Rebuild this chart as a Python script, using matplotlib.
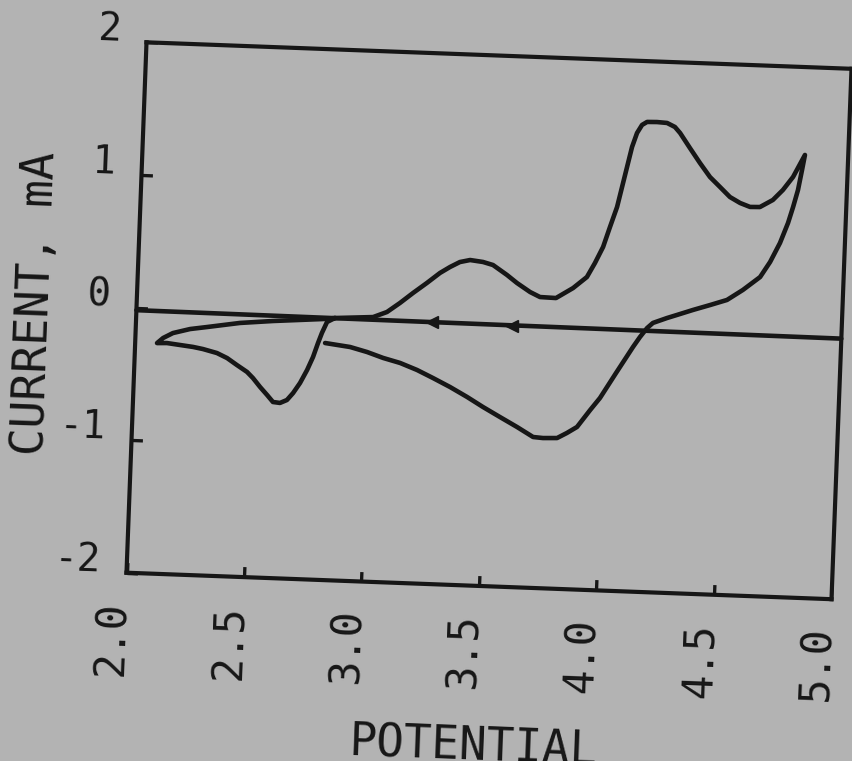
import matplotlib
matplotlib.use("Agg")
import numpy as np
import matplotlib.pyplot as plt
from matplotlib.transforms import Affine2D
import mpl_toolkits.axisartist.floating_axes as floating_axes
from mpl_toolkits.axisartist.grid_finder import FixedLocator, DictFormatter

# ---------------- data (potential in V, current in mA) ----------------
x_ticks = [2.0, 2.5, 3.0, 3.5, 4.0, 4.5, 5.0]
x_ticklabels = ["2.0", "2.5", "3.0", "3.5", "4.0", "4.5", "5.0"]
y_ticks = [-2.0, -1.0, 0.0, 1.0, 2.0]
y_ticklabels = ["-2", "-1", "0", "1", "2"]

# straight zero/start line drawn by the recorder
base_x = [2.0, 5.0]
base_y = [-0.02, -0.035]

# scan-direction arrow heads on the start line
arrow_x = [3.26, 3.60]
arrow_y = [-0.028, -0.03]

# low-potential loop (2.1 - 2.85 V)
loop_x = [2.845, 2.794, 2.582, 2.442, 2.303, 2.231, 2.159, 2.118, 2.093, 2.135,
          2.191, 2.247, 2.289, 2.349, 2.393, 2.436, 2.480, 2.506, 2.538, 2.569,
          2.595, 2.625, 2.654, 2.679, 2.707, 2.735, 2.758, 2.777, 2.792, 2.812,
          2.845]
loop_y = [-0.023, -0.034, -0.063, -0.087, -0.127, -0.147, -0.182, -0.222, -0.262, -0.259,
          -0.270, -0.281, -0.294, -0.320, -0.355, -0.405, -0.454, -0.498, -0.564, -0.622,
          -0.673, -0.678, -0.654, -0.600, -0.522, -0.422, -0.323, -0.216, -0.139, -0.055,
          -0.023]

# main cycle: anodic sweep to 4.8 V and cathodic return
main_x = [2.845, 3.007, 3.065, 3.119, 3.173, 3.230, 3.284, 3.326, 3.367, 3.410,
          3.465, 3.508, 3.569, 3.613, 3.670, 3.713, 3.781, 3.852, 3.909, 3.941,
          3.973, 3.999, 4.026, 4.044, 4.062, 4.080, 4.099, 4.119, 4.140, 4.182,
          4.225, 4.259, 4.282, 4.326, 4.371, 4.416, 4.460, 4.504, 4.548, 4.591,
          4.633, 4.687, 4.728, 4.769, 4.816,
          4.806, 4.792, 4.774, 4.755, 4.724, 4.685, 4.645, 4.574, 4.508, 4.437,
          4.365, 4.298, 4.256, 4.197, 4.173, 4.144, 4.116, 4.048, 3.984, 3.944,
          3.891, 3.849, 3.808, 3.748, 3.706, 3.636, 3.562, 3.488, 3.419, 3.345,
          3.271, 3.202, 3.129, 3.056, 2.987, 2.914, 2.807]
main_y = [-0.023, -0.005, 0.037, 0.109, 0.188, 0.267, 0.346, 0.394, 0.434, 0.452,
          0.441, 0.421, 0.350, 0.292, 0.228, 0.193, 0.190, 0.270, 0.357, 0.465,
          0.588, 0.740, 0.893, 1.045, 1.197, 1.349, 1.456, 1.518, 1.542, 1.544,
          1.540, 1.512, 1.468, 1.358, 1.248, 1.145, 1.073, 1.000, 0.958, 0.931,
          0.933, 0.990, 1.068, 1.169, 1.338,
          1.224, 1.072, 0.943, 0.821, 0.668, 0.522, 0.406, 0.304, 0.224, 0.181,
          0.139, 0.097, 0.071, 0.030, -0.010, -0.080, -0.157, -0.358, -0.550, -0.644,
          -0.775, -0.823, -0.864, -0.868, -0.863, -0.792, -0.722, -0.651, -0.580, -0.510,
          -0.447, -0.391, -0.343, -0.310, -0.270, -0.237, -0.214]

x_label = "POTENTIAL"
y_label = "CURRENT, mA"

# ---------------- styling ----------------
BG = "#b3b3b3"
INK = "#161616"
W, H = 852, 761
plt.rcParams["font.family"] = ["DejaVu Sans Mono", "DejaVu Sans"]

fig = plt.figure(figsize=(W / 100, H / 100), dpi=100, facecolor=BG)

# the scanned sheet is slightly tilted: map (V, mA) to figure pixels
tilt = Affine2D(np.array([[235.0, 5.0, -333.5],
                          [-8.83, 132.6, 471.15],
                          [0.0, 0.0, 1.0]]))
corners = tilt.transform([[2, -2], [5, -2], [5, 2], [2, 2]])
x0, y0 = corners.min(axis=0)
x1, y1 = corners.max(axis=0)
cx, cy = (x0 + x1) / 2, (y0 + y1) / 2
bw, bh = (x1 - x0) * 1.02, (y1 - y0) * 1.02
rect = [(cx - bw / 2) / W, (cy - bh / 2) / H, bw / W, bh / H]

grid_helper = floating_axes.GridHelperCurveLinear(
    tilt, extremes=(2.0, 5.0, -2.0, 2.0),
    grid_locator1=FixedLocator(x_ticks),
    grid_locator2=FixedLocator(y_ticks),
    tick_formatter1=DictFormatter(dict(zip(x_ticks, x_ticklabels))),
    tick_formatter2=DictFormatter(dict(zip(y_ticks, y_ticklabels))))

ax = fig.add_axes(rect, axes_class=floating_axes.FloatingAxes,
                  grid_helper=grid_helper)
ax.patch.set_facecolor(BG)
aux = ax.get_aux_axes(tilt)

for side in ["bottom", "left", "top", "right"]:
    a = ax.axis[side]
    a.line.set_linewidth(3.0)
    a.line.set_color(INK)
for side in ["top", "right"]:
    ax.axis[side].toggle(ticks=False, ticklabels=False, label=False)
for side in ["bottom", "left"]:
    t = ax.axis[side].major_ticks
    t.set_tick_out(False)
    t.set_ticksize(7.5)
    t.set_markeredgewidth(2.4)
    t.set_markeredgecolor(INK)
    t.set_color(INK)
    ax.axis[side].major_ticklabels.set_color(INK)

btl = ax.axis["bottom"].major_ticklabels
btl.set_fontsize(30)
btl.set_rotation(90)
btl.set_ha("right")
btl.set_va("baseline")
btl.set_pad(-2.6)

ltl = ax.axis["left"].major_ticklabels
ltl.set_fontsize(28)
ltl.set_ha("right")
ltl.set_va("baseline")
ltl.set_pad(19)

bl = ax.axis["bottom"].label
bl.set_text(x_label)
bl.set_fontsize(33)
bl.set_color(INK)
bl.set_pad(80)

ll = ax.axis["left"].label
ll.set_text(y_label)
ll.set_fontsize(33)
ll.set_color(INK)
ll.set_pad(3.5)

# ---------------- curves ----------------
kw = dict(color=INK, lw=3.3, solid_capstyle="round", solid_joinstyle="round")
aux.plot(base_x, base_y, **kw)
aux.plot(loop_x, loop_y, **kw)
aux.plot(main_x, main_y, **kw)
aux.plot(arrow_x, arrow_y, ls="none", marker="<", ms=9, color=INK)

fig.savefig("out.png", dpi=100, facecolor=BG)
